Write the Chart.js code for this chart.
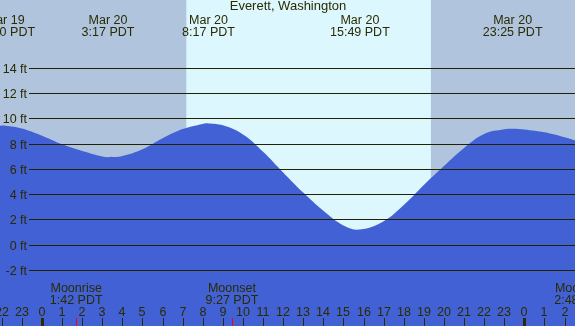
<!DOCTYPE html>
<html>
<head>
<meta charset="utf-8">
<script src="https://cdn.jsdelivr.net/npm/chart.js@4"></script>
<style>
  html, body { margin: 0; padding: 0; background: #B0C4DE; }
  canvas { display: block; }
</style>
</head>
<body>
<canvas id="tideChart" width="575" height="326"></canvas>
<script>
// tide heights (hours from midnight Mar 20, feet)
const hours  = [-2.09, -1.83, -1, 0, 1, 2, 3, 3.28, 4, 5, 6, 7, 8, 8.28, 9, 10, 11, 12, 13, 14, 15, 15.82, 17, 18, 19, 20, 21, 22, 23, 23.42, 24, 25, 26, 26.52];
const tideFt = [9.41, 9.42, 9.2, 8.63, 7.95, 7.42, 6.98, 6.93, 7.02, 7.55, 8.42, 9.15, 9.56, 9.6, 9.45, 8.73, 7.36, 5.72, 4.12, 2.68, 1.52, 1.2, 1.85, 3.13, 4.72, 6.22, 7.65, 8.76, 9.13, 9.18, 9.12, 8.89, 8.5, 8.25];

const yTicks = [-2, 0, 2, 4, 6, 8, 10, 12, 14];
const hourTicks = [-2, -1, 0, 1, 2, 3, 4, 5, 6, 7, 8, 9, 10, 11, 12, 13, 14, 15, 16, 17, 18, 19, 20, 21, 22, 23, 24, 25, 26];

// high / low tide labels
const tideHours = [-1.833, 3.283, 8.283, 15.817, 23.417];
const tideDates = ['Mar 19', 'Mar 20', 'Mar 20', 'Mar 20', 'Mar 20'];
const tideTimes = ['22:10 PDT', '3:17 PDT', '8:17 PDT', '15:49 PDT', '23:25 PDT'];

// moon events
const moonHours = [1.7, 9.45, 26.8];
const moonNames = ['Moonrise', 'Moonset', 'Moonrise'];
const moonTimes = ['1:42 PDT', '9:27 PDT', '2:48 PDT'];

const sunrise = 7.18;
const sunset = 19.35;

const txtColor = '#2b2b00';
const font = '12.5px "Liberation Sans", Arial, sans-serif';

const tidePlugin = {
  id: 'tidePlugin',
  beforeDatasetsDraw(chart) {
    const c = chart.ctx, x = chart.scales.x, a = chart.chartArea;
    c.save();
    c.fillStyle = '#B0C4DE';
    c.fillRect(a.left, a.top, a.right - a.left, a.bottom - a.top);
    c.fillStyle = '#DDF7FF';
    const x1 = x.getPixelForValue(sunrise), x2 = x.getPixelForValue(sunset);
    c.fillRect(x1, a.top, x2 - x1, a.bottom - a.top);
    c.restore();
  },
  afterDatasetsDraw(chart) {
    const c = chart.ctx, x = chart.scales.x, y = chart.scales.y, a = chart.chartArea;
    c.save();
    // grid lines + y labels
    c.font = font;
    c.fillStyle = txtColor;
    c.strokeStyle = '#222200';
    c.lineWidth = 1;
    yTicks.forEach(v => {
      const py = Math.round(y.getPixelForValue(v)) + 0.5;
      c.beginPath();
      c.moveTo(29, py);
      c.lineTo(a.right, py);
      c.stroke();
      c.textAlign = 'right';
      c.textBaseline = 'alphabetic';
      c.fillText(v + ' ft', 27, py + 4);
    });
    // title
    c.textAlign = 'center';
    c.font = '13px "Liberation Sans", Arial, sans-serif';
    c.fillText('Everett, Washington', 288, 10);
    // tide times
    c.font = font;
    tideHours.forEach((h, i) => {
      const px = x.getPixelForValue(h);
      c.fillText(tideDates[i], px, 24);
      c.fillText(tideTimes[i], px, 36);
    });
    // hour ticks
    hourTicks.forEach(h => {
      const px = Math.round(x.getPixelForValue(h));
      const hh = ((h % 24) + 24) % 24;
      c.fillText(String(hh), px, 316);
      c.fillStyle = txtColor;
      if (hh === 0) c.fillRect(px - 1, 318, 3, 8);
      else c.fillRect(px, 318, 1, 8);
    });
    // moon events
    moonHours.forEach((h, i) => {
      const px = x.getPixelForValue(h);
      c.fillStyle = txtColor;
      c.fillText(moonNames[i], px, 292);
      c.fillText(moonTimes[i], px, 304);
      c.fillStyle = '#ff0000';
      c.fillRect(Math.round(px), 318, 1, 8);
    });
    c.restore();
  }
};

new Chart(document.getElementById('tideChart'), {
  type: 'line',
  data: {
    datasets: [{
      data: hours.map((h, i) => ({ x: h, y: tideFt[i] })),
      fill: 'start',
      backgroundColor: '#4161D5',
      borderWidth: 0,
      pointRadius: 0,
      tension: 0.4
    }]
  },
  options: {
    responsive: false,
    animation: false,
    devicePixelRatio: 1,
    layout: { padding: 0 },
    plugins: { legend: { display: false }, tooltip: { enabled: false } },
    scales: {
      x: { type: 'linear', min: -2.09, max: 26.52, display: false },
      y: { min: -6.44, max: 19.37, display: false }
    }
  },
  plugins: [tidePlugin]
});
</script>
</body>
</html>
